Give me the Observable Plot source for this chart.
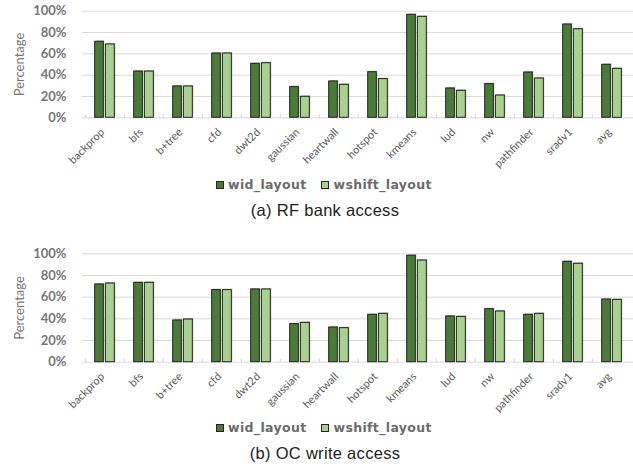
<!DOCTYPE html>
<html><head><meta charset="utf-8">
<script src="https://cdn.jsdelivr.net/npm/d3@7"></script>
<script src="https://cdn.jsdelivr.net/npm/@observablehq/plot@0.6"></script>
<style>
body{margin:0;background:#fff;width:633px;height:468px;overflow:hidden;position:relative;font-family:Lato,sans-serif}
.blk{position:absolute;left:0;width:633px}
.legend{position:absolute;left:216px;display:flex;align-items:center;font-family:"DejaVu Sans",sans-serif;font-weight:bold;font-size:12.5px;letter-spacing:0.35px;color:#6b6b6b;white-space:nowrap;line-height:16px}
.sw{display:inline-block;width:6px;height:6px;border:1px solid #262626;margin-right:4px}
.caption{position:absolute;left:0;width:650px;text-align:center;font-family:"Liberation Sans",Arial,sans-serif;font-size:16.5px;letter-spacing:0.3px;color:#222;line-height:20px}
</style></head><body>
<div id="chartA" class="blk" style="top:0"></div>
<div id="legA" class="legend" style="top:177px"></div>
<div id="capA" class="caption" style="top:200px"></div>
<div id="chartB" class="blk" style="top:240px"></div>
<div id="legB" class="legend" style="top:420px"></div>
<div id="capB" class="caption" style="top:443px"></div>
<script>
const categories = ["backprop","bfs","b+tree","cfd","dwt2d","gaussian","heartwall","hotspot","kmeans","lud","nw","pathfinder","sradv1","avg"];
const seriesNames = ["wid_layout","wshift_layout"];
const seriesColors = ["#4a7c38","#a9d18e"];
const rfWid    = [71.3,43.4,29.4,60.3,50.6,28.8,34.1,42.8,96.6,27.5,31.6,42.5,87.5,49.7];
const rfWshift = [68.8,43.4,29.4,60.3,51.2,19.7,30.9,36.3,94.7,25.3,20.9,36.9,83.1,45.9];
const ocWid    = [71.7,73.2,38.5,66.5,67.1,35.1,32.0,43.7,98.2,42.2,48.9,43.7,92.6,57.8];
const ocWshift = [72.6,73.2,39.4,66.5,67.1,36.3,31.4,44.6,93.8,41.8,46.8,44.6,90.8,57.5];
const yTicks = [0,20,40,60,80,100];
const yLabel = "Percentage";
const captions = ["(a) RF bank access","(b) OC write access"];

function makeChart(a, b, opts) {
  const rows = categories.map((c, i) => ({cat: c, a: a[i], b: b[i]}));
  const W = 633, ML = 82, MR = 0;
  const step = (W - ML - MR) / categories.length;
  const h = step / 2;
  const darkIns = {insetLeft: h - 10, insetRight: h + 1};
  const lightIns = {insetLeft: h + 0.7, insetRight: h - 10};
  const common = {x: "cat"};
  return Plot.plot({
    width: W, height: opts.height,
    marginLeft: ML, marginRight: MR, marginTop: opts.mt, marginBottom: opts.mb,
    style: {fontFamily: "Lato, sans-serif", fontSize: "11px", color: "#595959", background: "#fff"},
    x: {domain: categories, padding: 0, axis: null},
    y: {domain: [0, 100], axis: null},
    marks: [
      Plot.ruleY(yTicks, {stroke: "#d9d9d9", strokeWidth: 1}),
      Plot.ruleX(categories, {x: d => d, y1: 0, y2: 0, dx: -h, insetTop: -3, stroke: "#d0d0d0"}),
      Plot.barY(rows, {...common, y: "a", ...darkIns, dx: 1, dy: -1, fill: "#8c8c8c", fillOpacity: 0.55}),
      Plot.barY(rows, {...common, y: "b", ...lightIns, dx: 1, dy: -1, fill: "#8c8c8c", fillOpacity: 0.55}),
      Plot.barY(rows, {...common, y: "a", ...darkIns, fill: seriesColors[0], stroke: "#222", strokeWidth: 1}),
      Plot.barY(rows, {...common, y: "b", ...lightIns, fill: seriesColors[1], stroke: "#222", strokeWidth: 1}),
      Plot.text(yTicks, {y: d => d, text: d => d + "%", frameAnchor: "left", textAnchor: "end", dx: -16, fontWeight: "bold", fontSize: 13, fill: "#767676"}),
      Plot.text(categories, {x: d => d, text: d => d, frameAnchor: "bottom", textAnchor: "end", rotate: -45, dy: 15, fontSize: 11, fill: "#595959"}),
      Plot.text([yLabel], {frameAnchor: "left", textAnchor: "middle", rotate: -90, dx: -63, fontSize: 13, fill: "#767676"})
    ]
  });
}

function makeLegend(el) {
  seriesNames.forEach((s, i) => {
    const sp = document.createElement("span");
    sp.style.display = "inline-flex"; sp.style.alignItems = "center";
    if (i > 0) sp.style.marginLeft = "15px";
    const sw = document.createElement("span");
    sw.className = "sw"; sw.style.background = seriesColors[i];
    sp.appendChild(sw);
    sp.appendChild(document.createTextNode(s));
    el.appendChild(sp);
  });
}

document.getElementById("chartA").appendChild(makeChart(rfWid, rfWshift, {height: 175, mt: 10.7, mb: 57.7}));
document.getElementById("chartB").appendChild(makeChart(ocWid, ocWshift, {height: 185, mt: 13.3, mb: 63.3}));
makeLegend(document.getElementById("legA"));
makeLegend(document.getElementById("legB"));
document.getElementById("capA").textContent = captions[0];
document.getElementById("capB").textContent = captions[1];
</script>
</body></html>
